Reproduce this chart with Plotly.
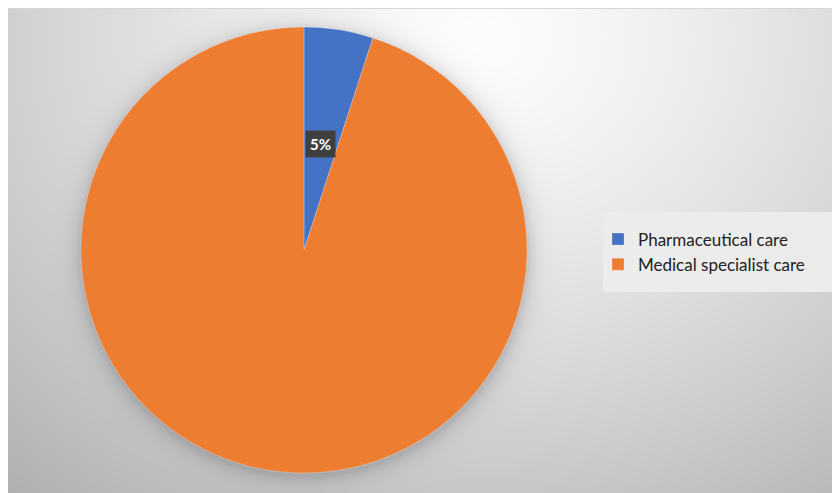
import base64, struct, zlib
import numpy as np
import plotly.graph_objects as go

# ---- data ----
categories = ["Pharmaceutical care", "Medical specialist care"]
values = [5, 95]
colors = ["#4472C4", "#ED7D31"]

W, H = 840, 493
OFF = 8  # page body margin
# pie geometry (figure pixels)
cx, cy, R = 304 - OFF, 250 - OFF, 223

# ---- background gradient image ----
yy, xx = np.mgrid[0:H, 0:W].astype(float)
d = np.sqrt(((xx - 470) / 560.0) ** 2 + ((yy - 30) / 470.0) ** 2)
val = 253 - 56 * np.clip(d, 0, 1.3) ** 1.3
dist = np.sqrt((xx - cx) ** 2 + (yy - (cy + 3)) ** 2) - R
shadow = np.where(dist > 0, 0.15 * np.exp(-dist / 9.0), 0.15)
val = val * (1 - shadow)
img = np.stack([val, val, val], axis=-1)
img[..., 2] = img[..., 2] + 3 * np.exp(-np.clip(dist, 0, None) / 9.0)
img[0, :, :] = 215
img = np.clip(img, 0, 255).astype(np.uint8)

def to_png(a):
    h, w, _ = a.shape
    raw = b"".join(b"\x00" + a[i].tobytes() for i in range(h))
    def chunk(t, data):
        c = struct.pack(">I", len(data)) + t + data
        return c + struct.pack(">I", zlib.crc32(t + data) & 0xffffffff)
    png = b"\x89PNG\r\n\x1a\n"
    png += chunk(b"IHDR", struct.pack(">IIBBBBB", w, h, 8, 2, 0, 0, 0))
    png += chunk(b"IDAT", zlib.compress(raw, 9))
    png += chunk(b"IEND", b"")
    return "data:image/png;base64," + base64.b64encode(png).decode()

fig = go.Figure()
fig.add_trace(go.Pie(
    labels=categories, values=values,
    marker=dict(colors=colors, line=dict(color="rgba(255,255,255,0.4)", width=0.6)),
    sort=False, direction="clockwise", rotation=0,
    textinfo="none", hoverinfo="label+percent",
    domain=dict(x=[(cx - R) / W, (cx + R) / W], y=[1 - (cy + R) / H, 1 - (cy - R) / H]),
))

# percent label of first slice, placed from data
total = sum(values)
mid = np.deg2rad(360 * values[0] / total / 2)
lx = cx + 0.48 * R * np.sin(mid)
ly = cy - 0.48 * R * np.cos(mid)
fig.add_annotation(
    x=lx / W, y=1 - ly / H, xref="paper", yref="paper",
    xanchor="center", yanchor="middle",
    text=f"<b>{round(100 * values[0] / total)}%</b>", showarrow=False,
    font=dict(family="Lato, Open Sans, sans-serif", size=15, color="white"),
    bgcolor="#3f3f3f", borderpad=4,
)

# legend background box
bx0, bx1, by0, by1 = 603 - OFF, 836 - OFF, 212 - OFF, 292 - OFF
fig.add_shape(type="rect", xref="paper", yref="paper",
              x0=bx0 / W, x1=bx1 / W, y0=1 - by1 / H, y1=1 - by0 / H,
              fillcolor="rgba(236,236,236,0.95)", line=dict(width=0), layer="below")

fig.add_layout_image(dict(
    source=to_png(img), xref="paper", yref="paper", x=0, y=1,
    sizex=1, sizey=1, xanchor="left", yanchor="top",
    sizing="stretch", layer="below",
))

fig.update_layout(
    width=W, height=H, margin=dict(l=0, r=0, t=0, b=0),
    paper_bgcolor="white", plot_bgcolor="white",
    showlegend=True,
    legend=dict(
        x=(598 - OFF) / W, y=1 - (252 - OFF) / H, xanchor="left", yanchor="middle",
        bgcolor="rgba(0,0,0,0)",
        font=dict(family="Lato, Open Sans, sans-serif", size=17, color="#222222"),
        itemwidth=30,
    ),
)

fig.write_html("out.html")
